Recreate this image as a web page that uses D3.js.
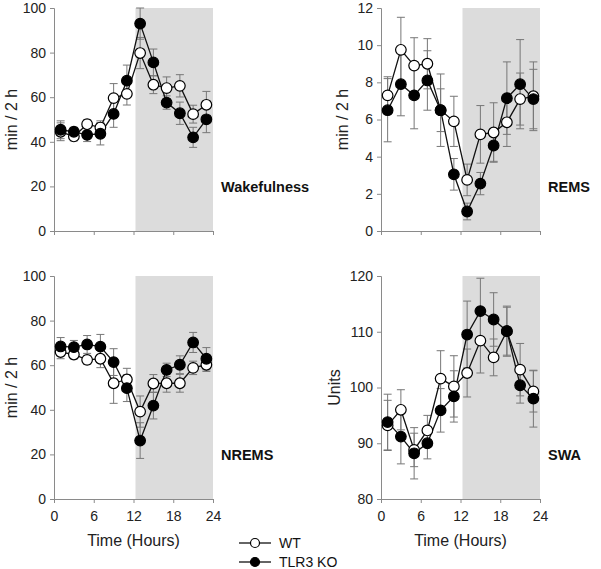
<!DOCTYPE html>
<html>
<head>
<meta charset="utf-8">
<script src="https://cdn.jsdelivr.net/npm/d3@7"></script>
<style>
  body { margin: 0; background: #fff; }
  svg { font-family: "Liberation Sans", Arial, sans-serif; }
</style>
</head>
<body>
<svg id="chart" width="601" height="569"></svg>
<script>
const hours = [1, 3, 5, 7, 9, 11, 13, 15, 17, 19, 21, 23];
const xTicks = [0, 6, 12, 18, 24];

const wakeWT = [44.5, 42.4, 47.9, 46.4, 59.6, 61.5, 79.8, 65.6, 64.1, 65.1, 52.4, 56.6];
const wakeWTErr = [4, 2, 2, 3, 6.5, 5, 7, 4, 5, 5, 4, 6];
const wakeKO = [45.4, 44.5, 43.1, 43.6, 52.5, 67.4, 93, 75.6, 57.6, 52.8, 42, 50.1];
const wakeKOErr = [4, 2, 3, 5, 6, 7, 7, 6, 3, 5, 4.5, 6];

const remWT = [7.3, 9.75, 8.9, 9.0, 6.5, 5.9, 2.75, 5.2, 5.3, 5.85, 7.1, 7.25];
const remWTErr = [1.0, 1.75, 1.5, 1.35, 1.95, 1.35, 0.85, 1.55, 1.6, 1.3, 1.4, 1.85];
const remKO = [6.5, 7.9, 7.3, 8.1, 6.5, 3.05, 1.05, 2.55, 4.6, 7.15, 7.9, 7.1];
const remKOErr = [1.7, 1.7, 1.8, 1.6, 1.15, 0.85, 0.45, 0.6, 0.85, 1.95, 2.4, 1.6];

const nremWT = [65.9, 64.8, 62.4, 62.9, 51.9, 53.6, 39.2, 51.8, 51.9, 51.9, 58.8, 60.2];
const nremWTErr = [3, 2, 2, 4, 9, 5, 7, 4, 4, 4, 3, 3];
const nremKO = [68.4, 68.1, 69.3, 68.3, 61.4, 49.7, 26.2, 41.9, 57.9, 60.2, 70.2, 62.9];
const nremKOErr = [4, 3, 4, 5.5, 6, 6, 8, 6, 3, 4, 4.5, 5];

const swaWT = [93.2, 96.0, 88.8, 92.3, 101.6, 100.2, 102.6, 108.4, 105.4, 110.1, 103.2, 99.3];
const swaWTErr = [4.5, 3.6, 3, 2.7, 5, 5.5, 4.3, 5.8, 3.3, 4.3, 4.7, 3.7];
const swaKO = [93.8, 91.2, 88.2, 90.0, 95.9, 98.4, 109.5, 113.7, 112.2, 110.1, 100.4, 98.0];
const swaKOErr = [5, 4.9, 4.6, 2.8, 3.9, 4.6, 6, 5.9, 4.8, 4.5, 3.2, 5.1];

const panels = [
  { title: "Wakefulness", yLabel: "min / 2 h", labelOffset: -37, yDomain: [0, 100], yTicks: [0, 20, 40, 60, 80, 100],
    wt: wakeWT, wtErr: wakeWTErr, ko: wakeKO, koErr: wakeKOErr, left: 54, top: 8, xAxisLabels: false },
  { title: "REMS", yLabel: "min / 2 h", labelOffset: -33, yDomain: [0, 12], yTicks: [0, 2, 4, 6, 8, 10, 12],
    wt: remWT, wtErr: remWTErr, ko: remKO, koErr: remKOErr, left: 381, top: 8, xAxisLabels: false },
  { title: "NREMS", yLabel: "min / 2 h", labelOffset: -37, yDomain: [0, 100], yTicks: [0, 20, 40, 60, 80, 100],
    wt: nremWT, wtErr: nremWTErr, ko: nremKO, koErr: nremKOErr, left: 54, top: 276, xAxisLabels: true },
  { title: "SWA", yLabel: "Units", labelOffset: -41, yDomain: [80, 120], yTicks: [80, 90, 100, 110, 120],
    wt: swaWT, wtErr: swaWTErr, ko: swaKO, koErr: swaKOErr, left: 381, top: 276, xAxisLabels: true }
];

const width = 159, height = 223;
const svg = d3.select("#chart");
const axisColor = "#8a8a8a";

panels.forEach(p => {
  const g = svg.append("g").attr("transform", `translate(${p.left},${p.top})`);
  const x = d3.scaleLinear().domain([0, 24]).range([0, width]);
  const y = d3.scaleLinear().domain(p.yDomain).range([height, 0]);

  // dark phase shading
  g.append("rect")
    .attr("x", x(12.3)).attr("y", 0)
    .attr("width", x(24) - x(12.3)).attr("height", height)
    .attr("fill", "#dcdcdc");

  const yAxis = g.append("g")
    .call(d3.axisLeft(y).tickValues(p.yTicks).tickSize(4).tickPadding(4).tickFormat(d3.format("d")));
  const xAxis = g.append("g")
    .attr("transform", `translate(0,${height})`)
    .call(d3.axisBottom(x).tickValues(xTicks).tickSize(4).tickPadding(8)
      .tickFormat(p.xAxisLabels ? d3.format("d") : ""));
  [yAxis, xAxis].forEach(a => {
    a.select(".domain").attr("stroke", axisColor);
    a.selectAll(".tick line").attr("stroke", axisColor);
    a.selectAll("text").attr("fill", "#222").style("font-size", "14px");
  });

  g.append("text")
    .attr("transform", `translate(${p.labelOffset},${height / 2}) rotate(-90)`)
    .attr("text-anchor", "middle")
    .style("font-size", "16px")
    .attr("fill", "#222")
    .text(p.yLabel);

  if (p.xAxisLabels) {
    g.append("text")
      .attr("x", width / 2).attr("y", height + 47)
      .attr("text-anchor", "middle")
      .style("font-size", "16px")
      .attr("fill", "#222")
      .text("Time (Hours)");
  }

  g.append("text")
    .attr("x", width + 8).attr("y", height - 39)
    .style("font-size", "14.5px").style("font-weight", "bold")
    .attr("fill", "#111")
    .text(p.title);

  const series = [
    { vals: p.wt, err: p.wtErr, fill: "#fff" },
    { vals: p.ko, err: p.koErr, fill: "#000" }
  ];

  // error bars
  series.forEach(s => {
    const eb = g.append("g").attr("stroke", "#777").attr("stroke-width", 1);
    hours.forEach((h, i) => {
      const hi = y(s.vals[i] + s.err[i]), lo = y(s.vals[i] - s.err[i]);
      eb.append("line").attr("x1", x(h)).attr("x2", x(h)).attr("y1", hi).attr("y2", lo);
      eb.append("line").attr("x1", x(h) - 4).attr("x2", x(h) + 4).attr("y1", hi).attr("y2", hi);
      eb.append("line").attr("x1", x(h) - 4).attr("x2", x(h) + 4).attr("y1", lo).attr("y2", lo);
    });
  });

  const line = d3.line().x((d, i) => x(hours[i])).y(d => y(d));
  series.forEach(s => {
    g.append("path").datum(s.vals)
      .attr("fill", "none").attr("stroke", "#111").attr("stroke-width", 1.3)
      .attr("d", line);
  });
  series.forEach(s => {
    g.selectAll(null).data(s.vals).enter().append("circle")
      .attr("cx", (d, i) => x(hours[i])).attr("cy", d => y(d))
      .attr("r", 5.3)
      .attr("fill", s.fill).attr("stroke", "#000").attr("stroke-width", 1.2);
  });
});

// legend
const legendItems = [
  { name: "WT", fill: "#fff" },
  { name: "TLR3 KO", fill: "#000" }
];
const legend = svg.append("g").attr("transform", "translate(239,543)");
legendItems.forEach((d, i) => {
  const li = legend.append("g").attr("transform", `translate(0,${i * 19})`);
  li.append("line").attr("x1", 0).attr("x2", 32).attr("stroke", "#111").attr("stroke-width", 1.3);
  li.append("circle").attr("cx", 16).attr("r", 4.5)
    .attr("fill", d.fill).attr("stroke", "#000").attr("stroke-width", 1.2);
  li.append("text").attr("x", 40).attr("y", 5)
    .style("font-size", "14px").attr("fill", "#111").text(d.name);
});
</script>
</body>
</html>
